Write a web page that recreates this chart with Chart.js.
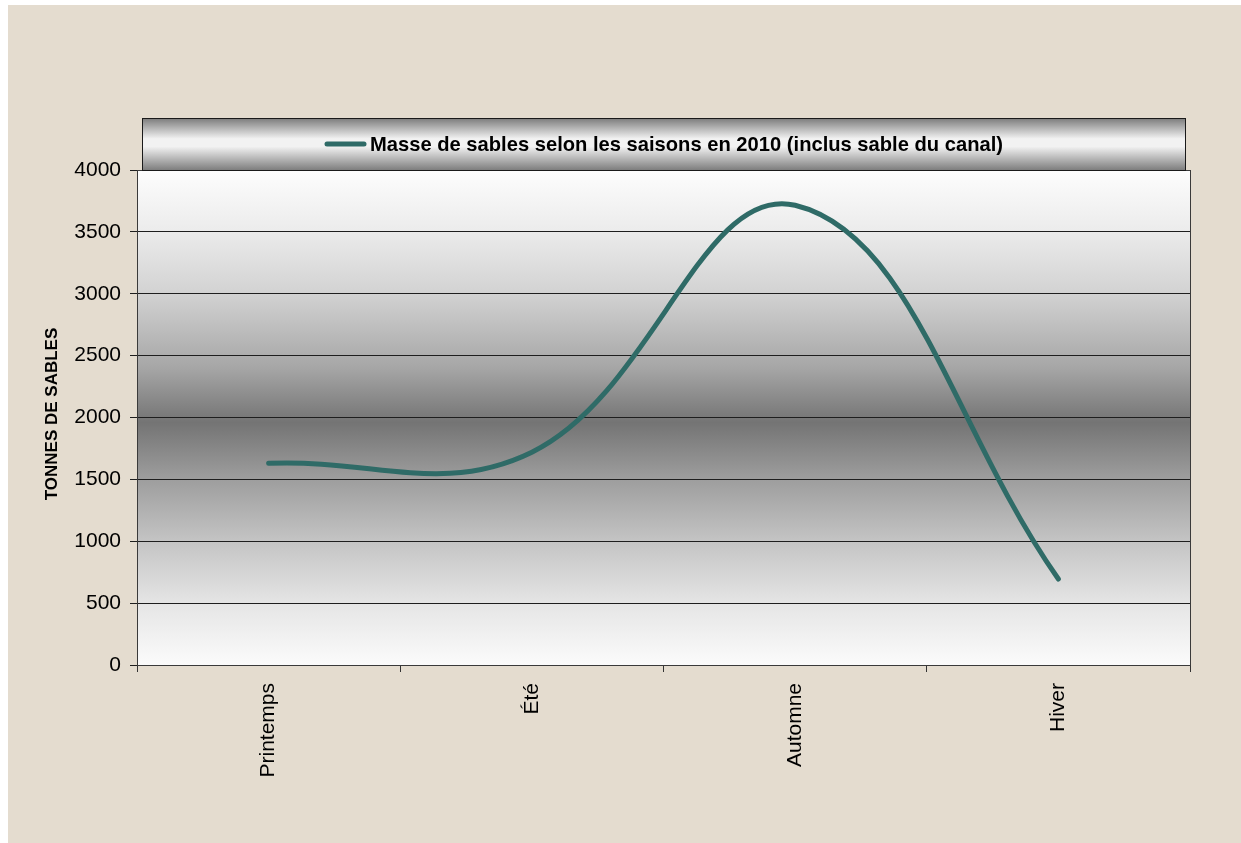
<!DOCTYPE html>
<html>
<head>
<meta charset="utf-8">
<script src="https://cdn.jsdelivr.net/npm/chart.js@4"></script>
<style>
  html, body { margin: 0; padding: 0; background: #ffffff; }
  #wrap { width: 1241px; height: 843px; }
</style>
</head>
<body>
<div id="wrap"><canvas id="c" width="1241" height="843"></canvas></div>
<script>
// Sand mass collected per season, 2010 (canal sand included)
const seasons = ['Printemps', 'Été', 'Automne', 'Hiver'];
const sandTonnes = [1630, 1720, 3715, 695];
const yAxisRange = [0, 4000];
const yAxisStep = 500;
const seriesLabel = 'Masse de sables selon les saisons en 2010 (inclus sable du canal)';
const yAxisTitle = 'TONNES DE SABLES';

const FONT = "'Liberation Sans', Arial, sans-serif";
const LINE_COLOR = '#2f6b67';

// Page background, plot gradient, plot frame, legend banner and axis title
const decor = {
  id: 'decor',
  beforeDraw(chart) {
    const { ctx, chartArea: a } = chart;
    ctx.save();
    ctx.fillStyle = '#ffffff';
    ctx.fillRect(0, 0, chart.width, chart.height);
    ctx.fillStyle = '#e4dccf';
    ctx.fillRect(8, 5, chart.width - 8, chart.height - 5);

    const g = ctx.createLinearGradient(0, a.top, 0, a.bottom);
    g.addColorStop(0.00, '#fdfdfd');
    g.addColorStop(0.12, '#ececec');
    g.addColorStop(0.25, '#d2d2d2');
    g.addColorStop(0.40, '#a6a6a6');
    g.addColorStop(0.51, '#747474');
    g.addColorStop(0.62, '#9c9c9c');
    g.addColorStop(0.75, '#c4c4c4');
    g.addColorStop(0.88, '#e6e6e6');
    g.addColorStop(1.00, '#fbfbfb');
    ctx.fillStyle = g;
    ctx.fillRect(a.left, a.top, a.right - a.left, a.bottom - a.top);
    ctx.restore();
  },
  afterDraw(chart) {
    const { ctx, chartArea: a } = chart;
    ctx.save();
    // plot frame
    ctx.strokeStyle = '#3a3a3a';
    ctx.lineWidth = 1;
    ctx.strokeRect(a.left + 0.5, a.top + 0.5, a.right - a.left, a.bottom - a.top);

    // legend banner
    const bx = 142, by = 118, bw = 1043, bh = 52;
    const lg = ctx.createLinearGradient(0, by, 0, by + bh);
    lg.addColorStop(0.00, '#7a7a7a');
    lg.addColorStop(0.40, '#f2f2f2');
    lg.addColorStop(0.55, '#f2f2f2');
    lg.addColorStop(1.00, '#7e7e7e');
    ctx.fillStyle = lg;
    ctx.fillRect(bx, by, bw, bh);
    ctx.strokeStyle = '#1a1a1a';
    ctx.strokeRect(bx + 0.5, by + 0.5, bw, bh);

    const ly = by + 26;
    ctx.strokeStyle = LINE_COLOR;
    ctx.lineWidth = 5;
    ctx.lineCap = 'round';
    ctx.beginPath();
    ctx.moveTo(327, ly);
    ctx.lineTo(364, ly);
    ctx.stroke();

    ctx.font = 'bold 21px ' + FONT;
    ctx.fillStyle = '#000';
    ctx.textBaseline = 'middle';
    ctx.textAlign = 'left';
    const w = ctx.measureText(seriesLabel).width;
    const sx = 633 / w;
    ctx.save();
    ctx.translate(370, ly + 1);
    ctx.scale(sx, 1);
    ctx.fillText(seriesLabel, 0, 0);
    ctx.restore();

    // y axis title
    ctx.save();
    ctx.translate(52, 414);
    ctx.rotate(-Math.PI / 2);
    ctx.font = 'bold 17px ' + FONT;
    ctx.textAlign = 'center';
    ctx.textBaseline = 'middle';
    ctx.fillStyle = '#000';
    ctx.fillText(yAxisTitle, 0, 0);
    ctx.restore();
    ctx.restore();
  }
};

new Chart(document.getElementById('c'), {
  type: 'line',
  data: {
    labels: seasons,
    datasets: [{
      label: seriesLabel,
      data: sandTonnes,
      borderColor: LINE_COLOR,
      borderWidth: 5,
      borderCapStyle: 'round',
      tension: 0.4,
      pointRadius: 0,
      pointHoverRadius: 0,
      fill: false
    }]
  },
  options: {
    responsive: false,
    animation: false,
    events: [],
    layout: { padding: { left: 0, top: 170, right: 51, bottom: 0 } },
    plugins: { legend: { display: false }, tooltip: { enabled: false } },
    scales: {
      x: {
        offset: true,
        afterFit(scale) { scale.height = 178; },
        grid: { offset: true, drawOnChartArea: false, drawTicks: true, tickLength: 7, color: '#333' },
        border: { display: true, color: '#333' },
        ticks: {
          minRotation: 90, maxRotation: 90, autoSkip: false,
          padding: 11,
          color: '#000',
          font: { family: FONT, size: 21 }
        }
      },
      y: {
        min: yAxisRange[0],
        max: yAxisRange[1],
        afterFit(scale) { scale.width = 137; },
        grid: { color: '#1e1e1e', lineWidth: 1, tickLength: 7, drawTicks: true },
        border: { display: true, color: '#333' },
        ticks: {
          stepSize: yAxisStep,
          padding: 9,
          color: '#000',
          font: { family: FONT, size: 21 },
          callback: (v) => String(v)
        }
      }
    }
  },
  plugins: [decor]
});
</script>
</body>
</html>
